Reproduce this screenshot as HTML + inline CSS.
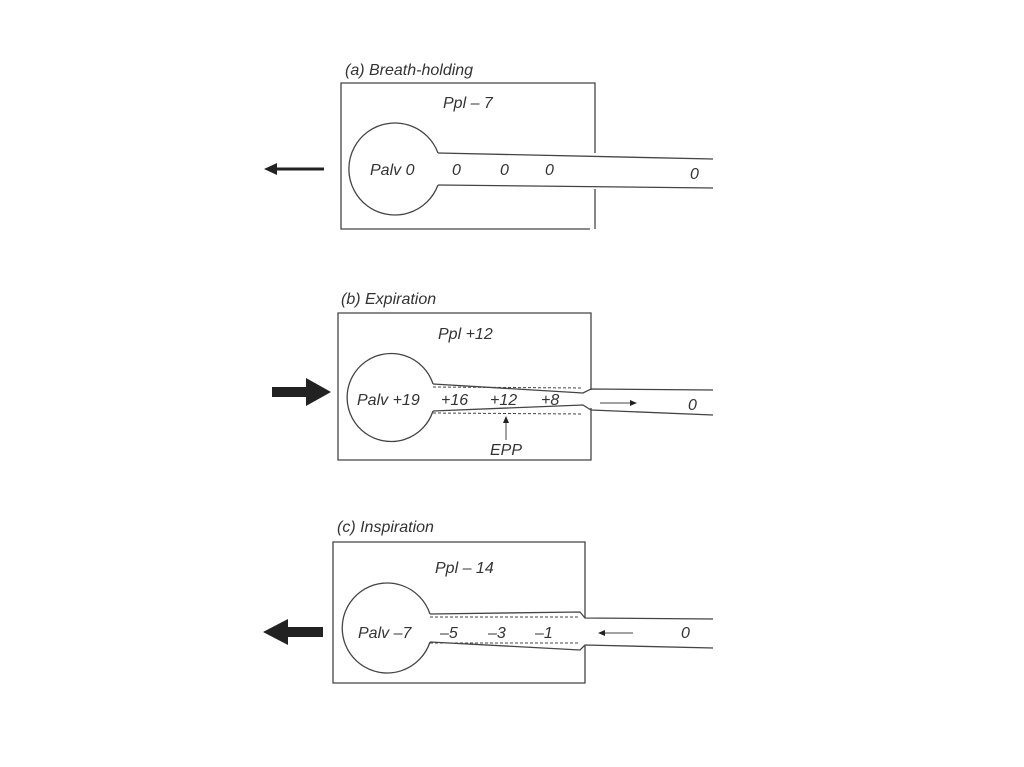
<!DOCTYPE html>
<html><head><style>
html,body{margin:0;padding:0;background:#fff;}
svg{display:block}
text{font-family:"Liberation Sans",sans-serif;font-style:italic;fill:#333;font-size:16px}
</style></head><body>
<svg width="1024" height="767" viewBox="0 0 1024 767" xmlns="http://www.w3.org/2000/svg">
<rect width="1024" height="767" fill="#fff"/>
<g stroke="#444" stroke-width="1.3" fill="none">
<!-- Panel a -->
<path d="M595 153 V83 H341 V229 H590"/>
<path d="M595 189 V229"/>
<path d="M438 153 A46 46 0 1 0 438 185"/>
<path d="M438 153 L713 159"/>
<path d="M438 185 L713 188"/>
<!-- Panel b -->
<path d="M591 390 V313 H338 V460 H591 V408"/>
<path d="M433 384 A44 44 0 1 0 433 411"/>
<path d="M433 384 L583 393 L591 389 L713 390"/>
<path d="M433 411 L583 405 L591 410 L713 415"/>
<path d="M433 387 L583 388 M433 413 L583 414" stroke-dasharray="3 2" stroke-width="1"/>
<path d="M600 403 H630" stroke-width="1"/>
<path d="M506 440 V422" stroke-width="1"/>
<!-- Panel c -->
<path d="M585 618 V542 H333 V683 H585 V646"/>
<path d="M430 614 A45 45 0 1 0 430 642"/>
<path d="M430 614 L580 612 L585 618 L713 619"/>
<path d="M430 642 L580 650 L585 645 L713 648"/>
<path d="M430 617 L580 617 M430 643 L580 643" stroke-dasharray="3 2" stroke-width="1"/>
<path d="M633 633 H604" stroke-width="1"/>
</g>
<g fill="#222">
<polygon points="630,400 637,403 630,406"/>
<polygon points="503,423 506,416 509,423"/>
<polygon points="605,630 598,633 605,636"/>
<!-- arrow a -->
<rect x="274" y="167.5" width="50" height="3"/>
<polygon points="264,169 277,163 277,175"/>
<!-- arrow b -->
<rect x="272" y="387" width="36" height="10"/>
<polygon points="306,378 331,392 306,406"/>
<!-- arrow c -->
<rect x="285" y="627" width="38" height="10"/>
<polygon points="263,632 288,619 288,645"/>
</g>
<text x="345" y="75">(a) Breath-holding</text>
<text x="443" y="108">Ppl – 7</text>
<text x="370" y="175">Palv 0</text>
<text x="452" y="175">0</text><text x="500" y="175">0</text><text x="545" y="175">0</text><text x="690" y="179">0</text>

<text x="341" y="304">(b) Expiration</text>
<text x="438" y="339">Ppl +12</text>
<text x="357" y="405">Palv +19</text>
<text x="441" y="405">+16</text><text x="490" y="405">+12</text><text x="541" y="405">+8</text>
<text x="688" y="410">0</text>
<text x="490" y="455">EPP</text>

<text x="337" y="532">(c) Inspiration</text>
<text x="435" y="573">Ppl – 14</text>
<text x="358" y="638">Palv –7</text>
<text x="440" y="638">–5</text><text x="488" y="638">–3</text><text x="535" y="638">–1</text>
<text x="681" y="638">0</text>
</svg>
</body></html>
